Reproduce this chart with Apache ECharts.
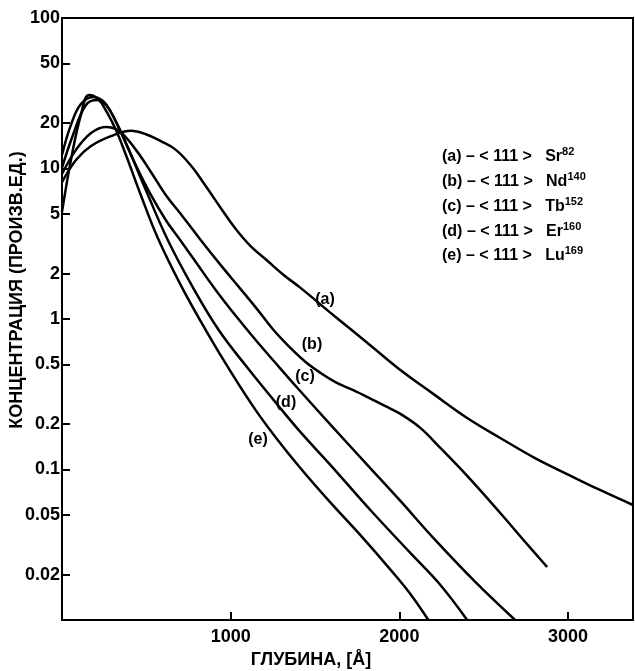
<!DOCTYPE html>
<html>
<head>
<meta charset="utf-8">
<script src="https://cdn.jsdelivr.net/npm/echarts@6/dist/echarts.min.js"></script>
<style>
html,body{margin:0;padding:0;background:#fff;}
#chart{width:635px;height:671px;}
</style>
</head>
<body>
<div id="chart"></div>
<script>
// ---- data (depth in Å, concentration in arb. units) ----
const xTickValues = [1000, 2000, 3000];
const xTickLabels = ['1000', '2000', '3000'];
const yTickValues = [0.02, 0.05, 0.1, 0.2, 0.5, 1, 2, 5, 10, 20, 50, 100];
const yTickLabels = ['0.02', '0.05', '0.1', '0.2', '0.5', '1', '2', '5', '10', '20', '50', '100'];

const curveA = [[0,8.1],[83,11.4],[172,14.1],[290,16.4],[408,17.8],[497,16.9],[586,15.2],[675,13.3],[763,10.5],[852,7.65],[941,5.47],[1030,3.96],[1118,3.05],[1219,2.43],[1314,1.96],[1414,1.61],[1609,1.06],[1811,0.693],[2006,0.458],[2201,0.318],[2402,0.22],[2598,0.162],[2793,0.121],[2994,0.0933],[3189,0.0731],[3385,0.0581]];
const curveB = [[0,9.2],[83,13.3],[172,17.2],[260,18.9],[337,17.8],[438,13.3],[527,9.48],[615,6.67],[704,4.99],[822,3.35],[941,2.28],[1059,1.58],[1160,1.15],[1254,0.845],[1355,0.641],[1444,0.518],[1533,0.438],[1621,0.381],[1710,0.343],[1811,0.303],[1917,0.264],[2006,0.234],[2124,0.189],[2243,0.139],[2402,0.0906],[2598,0.0514],[2746,0.033],[2876,0.0225]];
const curveC = [[0,12.3],[53,19.5],[112,26.8],[183,29.9],[243,28.1],[290,23.7],[349,17.5],[438,10.5],[527,6.67],[615,4.55],[692,3.45],[793,2.39],[911,1.56],[1030,1.05],[1148,0.725],[1266,0.51],[1396,0.348],[1609,0.189],[1811,0.107],[2006,0.0618],[2201,0.0351],[2450,0.0179],[2686,0.01]];
const curveD = [[0,10.1],[65,16.7],[142,26.4],[207,28.5],[266,26.0],[320,20.4],[396,13.3],[497,7.19],[627,3.35],[775,1.63],[929,0.845],[1101,0.472],[1254,0.29],[1414,0.177],[1592,0.107],[1828,0.0538],[2065,0.0279],[2243,0.0171],[2402,0.01]];
const curveE = [[0,5.14],[53,11.4],[112,22.7],[160,30.8],[213,29.0],[266,23.7],[320,18.0],[379,12.3],[467,6.67],[568,3.45],[704,1.68],[852,0.845],[1012,0.425],[1148,0.248],[1266,0.164],[1414,0.102],[1592,0.0602],[1769,0.0366],[1947,0.0216],[2065,0.0149],[2172,0.01]];

const curveNames = ['(a)', '(b)', '(c)', '(d)', '(e)'];
const legendRows = [
  ['(a) – < 111 >   Sr', '82'],
  ['(b) – < 111 >   Nd', '140'],
  ['(c) – < 111 >   Tb', '152'],
  ['(d) – < 111 >   Er', '160'],
  ['(e) – < 111 >   Lu', '169']
];
const xAxisTitle = 'ГЛУБИНА, [Å]';
const yAxisTitle = 'КОНЦЕНТРАЦИЯ (ПРОИЗВ.ЕД.)';

// ---- chart ----
const FONT = '"Liberation Sans", Arial, sans-serif';
const W = 'bold';
const chart = echarts.init(document.getElementById('chart'), null, {renderer: 'canvas'});
const logTicks = yTickValues.map(v => Math.log10(v));

function lineSeries(data) {
  return {
    type: 'line', data: data, xAxisIndex: 0, yAxisIndex: 0,
    smooth: 0.4, symbol: 'none', silent: true,
    lineStyle: {color: '#000', width: 2.5}
  };
}

const labelPos = [[325, 300], [312, 345], [305, 377], [286, 403], [258, 440]];
const legendY = [157, 182, 207, 232, 256];

const graphics = [];
curveNames.forEach((n, i) => {
  graphics.push({type: 'text', x: labelPos[i][0], y: labelPos[i][1], silent: true,
    style: {text: n, fontSize: 16, fontWeight: W, fontFamily: FONT, fill: '#000', textAlign: 'center', textVerticalAlign: 'middle'}});
});
legendRows.forEach((r, i) => {
  graphics.push({type: 'text', x: 442, y: legendY[i], silent: true,
    style: {text: '{t|' + r[0] + '}{s|' + r[1] + '}', fontFamily: FONT, fill: '#000',
      textAlign: 'left', textVerticalAlign: 'middle',
      rich: {t: {fontSize: 16, fontWeight: W, fontFamily: FONT, fill: '#000', lineHeight: 22},
             s: {fontSize: 11, fontWeight: W, fontFamily: FONT, fill: '#000', verticalAlign: 'top', lineHeight: 22}}}});
});
graphics.push({type: 'text', x: 311, y: 660, silent: true,
  style: {text: xAxisTitle, fontSize: 18, fontWeight: W, fontFamily: FONT, fill: '#000', textAlign: 'center', textVerticalAlign: 'middle'}});
graphics.push({type: 'text', x: 17, y: 290, rotation: Math.PI / 2, silent: true,
  style: {text: yAxisTitle, fontSize: 18, fontWeight: W, fontFamily: FONT, fill: '#000', textAlign: 'center', textVerticalAlign: 'middle'}});

chart.setOption({
  animation: false,
  backgroundColor: '#fff',
  grid: {left: 62, right: 2, top: 18, bottom: 51, show: true, borderColor: '#000', borderWidth: 2,
         containLabel: false, outerBoundsMode: 'none'},
  xAxis: {
    type: 'value', min: 0, max: 3385,
    axisLine: {show: true, onZero: false, lineStyle: {color: '#000', width: 2}},
    axisTick: {show: true, inside: true, length: 8, customValues: xTickValues, lineStyle: {color: '#000', width: 2}},
    axisLabel: {show: true, customValues: xTickValues, fontSize: 18, fontWeight: W, fontFamily: FONT, color: '#000', margin: 8,
      formatter: function (v) {
        for (let i = 0; i < xTickValues.length; i++) { if (Math.abs(xTickValues[i] - v) < 1e-6) return xTickLabels[i]; }
        return '';
      }},
    splitLine: {show: false}
  },
  yAxis: [
    {type: 'log', logBase: 10, min: 0.01, max: 100, position: 'left',
     axisLine: {show: true, lineStyle: {color: '#000', width: 2}},
     axisTick: {show: false}, axisLabel: {show: false}, splitLine: {show: false}},
    {type: 'value', min: -2, max: 2, position: 'left',
     axisLine: {show: false, onZero: false},
     axisTick: {show: true, inside: true, length: 8, customValues: logTicks, lineStyle: {color: '#000', width: 2}},
     axisLabel: {show: true, customValues: logTicks, fontSize: 18, fontWeight: W, fontFamily: FONT, color: '#000', margin: 2,
       formatter: function (v) {
         for (let i = 0; i < logTicks.length; i++) { if (Math.abs(logTicks[i] - v) < 1e-6) return yTickLabels[i]; }
         return '';
       }},
     splitLine: {show: false}}
  ],
  series: [lineSeries(curveA), lineSeries(curveB), lineSeries(curveC), lineSeries(curveD), lineSeries(curveE)],
  graphic: graphics
});
</script>
</body>
</html>
